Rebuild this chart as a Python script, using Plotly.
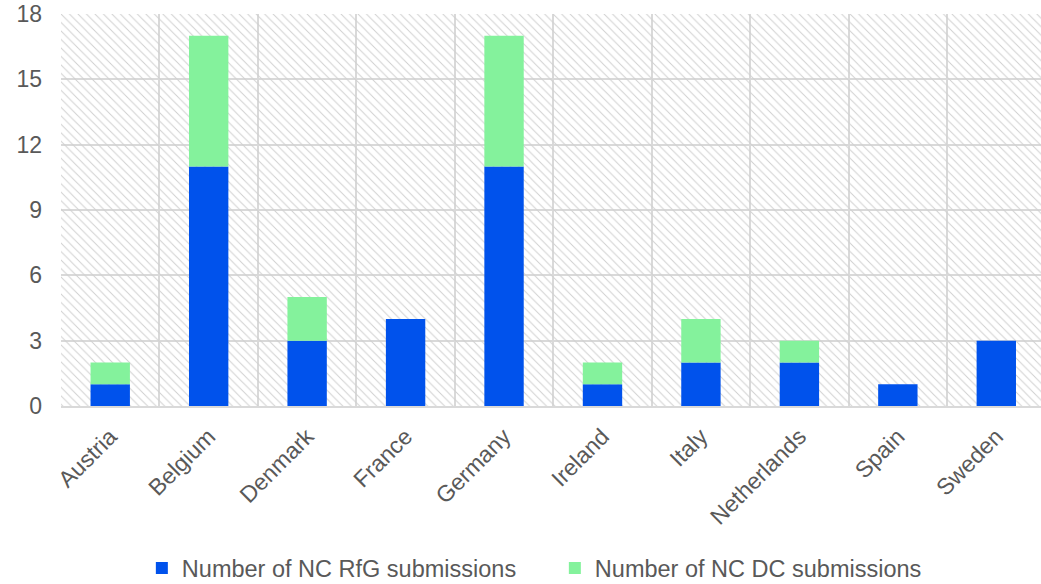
import plotly.graph_objects as go

countries = ["Austria", "Belgium", "Denmark", "France", "Germany",
             "Ireland", "Italy", "Netherlands", "Spain", "Sweden"]
rfg = [1, 11, 3, 4, 11, 1, 2, 2, 1, 3]
dc = [1, 6, 2, 0, 6, 1, 2, 1, 0, 0]
y_ticks = [0, 3, 6, 9, 12, 15, 18]

Y_MAX = 18
BLUE = "#0052EC"
GREEN = "#84F29C"
TXT = "#595959"
GRID = "#d9d9d9"
FONT = "Liberation Sans, Arial, sans-serif"

fig = go.Figure()

# hatched plot-area background
fig.add_trace(go.Bar(
    x=countries, y=[Y_MAX] * len(countries), width=1,
    marker=dict(color="rgba(0,0,0,0)", line=dict(width=0),
                pattern=dict(shape="\\", fgcolor="#d0d0d0", bgcolor="rgba(0,0,0,0)",
                             fillmode="replace", size=6, solidity=0.16)),
    showlegend=False, hoverinfo="skip",
))

fig.add_trace(go.Bar(
    x=countries, y=rfg, width=0.4, name="Number of NC RfG submissions",
    marker=dict(color=BLUE, line=dict(width=0)),
))
fig.add_trace(go.Bar(
    x=countries, y=dc, base=rfg, width=0.4, name="Number of NC DC submissions",
    marker=dict(color=GREEN, line=dict(width=0)),
))

fig.update_layout(
    width=1041, height=584,
    margin=dict(l=61, r=0, t=14, b=178, autoexpand=False),
    barmode="overlay",
    plot_bgcolor="white", paper_bgcolor="white",
    font=dict(family=FONT, size=24, color=TXT),
    legend=dict(orientation="h", xref="container", yref="container",
                x=0.533, y=0.027, xanchor="center", yanchor="middle",
                font=dict(size=23.5, color=TXT), traceorder="normal",
                itemwidth=30, entrywidth=368),
    xaxis=dict(type="category", range=[-0.5, 9.454], tickson="boundaries",
               automargin=False,
               showgrid=True, gridcolor=GRID, gridwidth=2,
               tickangle=-45, ticks="", ticklabelstandoff=6,
               tickfont=dict(size=23, color=TXT),
               showline=True, linecolor=GRID, linewidth=2),
    yaxis=dict(range=[0, Y_MAX], tickvals=y_ticks, showgrid=True,
               automargin=False,
               gridcolor=GRID, gridwidth=2, zeroline=False,
               ticks="", ticklabelstandoff=18,
               tickfont=dict(size=23, color=TXT)),
)

fig.write_html("out.html", config={"displayModeBar": False},
               post_script="document.body.style.margin='0';document.body.style.overflow='hidden';")
